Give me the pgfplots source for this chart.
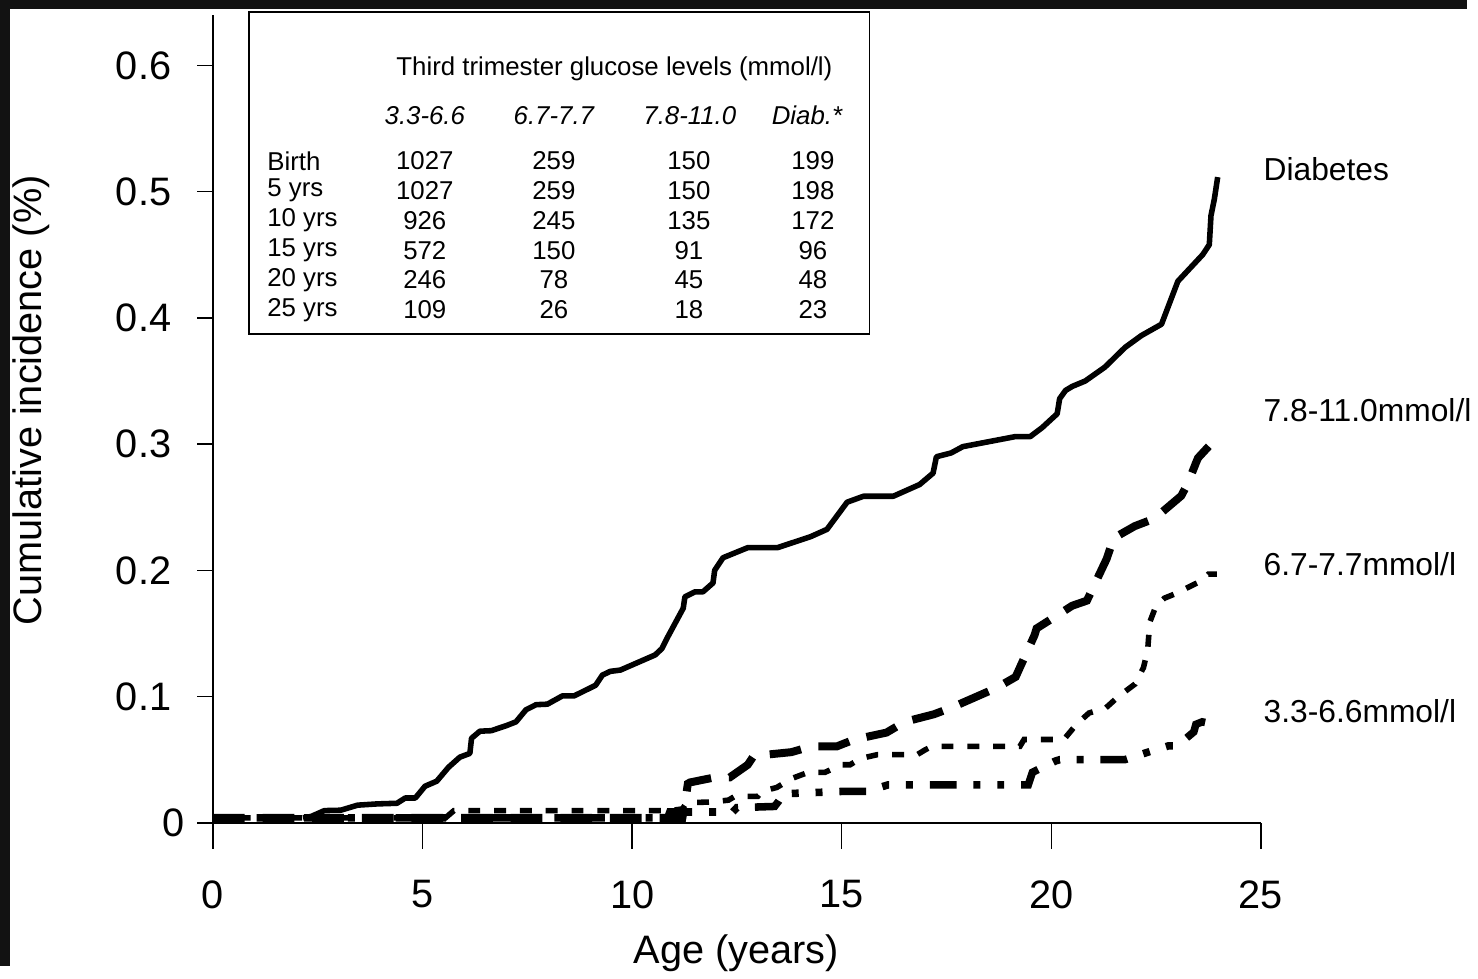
\documentclass[border=0pt]{standalone}
\usepackage{fontspec}
\setmainfont{Liberation Sans}
\usepackage{pgfplots}
\pgfplotsset{compat=1.18}
\begin{document}
\begin{tikzpicture}
\begin{scope}[x=0.5pt,y=0.5pt]
\fill[white] (0,0) rectangle (1478,973);
\fill[black!93] (0,964) rectangle (1478,973);
\fill[black!93] (0,0) rectangle (10,973);
\end{scope}
\begin{axis}[
  at={(107.25pt,72pt)}, anchor=south west,
  scale only axis, width=527.9pt, height=407pt,
  xmin=0, xmax=25, ymin=0, ymax=0.64,
  axis x line*=bottom, axis y line*=left,
  axis line style={-, line width=0.7pt},
  xtick={0,5,10,15,20,25}, ytick={0.1,0.2,0.3,0.4,0.5,0.6},
  extra y ticks={0},
  tick align=outside, major tick length=8pt,
  tick style={line width=0.7pt, black},
  xtick style={/pgfplots/major tick length=13pt},
  ytick style={/pgfplots/major tick length=8pt},
  /pgf/number format/assume math mode=true,
  yticklabel style={/pgf/number format/fixed, /pgf/number format/precision=1, xshift=-9.5pt},
  extra y tick style={yticklabel style={xshift=7pt}},
  xticklabel style={yshift=-17.5pt},
  every tick label/.append style={font=\fontsize{20}{24}\selectfont},
  xlabel={Age (years)}, ylabel={Cumulative incidence (\%)},
  label style={font=\fontsize{20}{24}\selectfont},
  xlabel style={at={(rel axis cs:0.4996,-0.161)}, anchor=center},
  ylabel style={at={(rel axis cs:-0.1729,0.523)}, anchor=center},
  clip=false,
]
% Diabetes
\addplot[black, line width=2.8pt, line join=round] coordinates {
(2.15,0.004)(2.34,0.005)(2.66,0.0097)(3.05,0.010)(3.45,0.014)(3.92,0.015)(4.39,0.0155)(4.59,0.0197)(4.83,0.0197)(5.06,0.029)(5.34,0.033)(5.62,0.044)(5.89,0.052)(6.13,0.055)(6.17,0.067)(6.37,0.0726)(6.64,0.073)(7.0,0.077)(7.23,0.080)(7.47,0.0896)(7.71,0.0936)(7.98,0.094)(8.34,0.1006)(8.62,0.1006)(9.13,0.109)(9.29,0.117)(9.48,0.120)(9.72,0.121)(10.55,0.133)(10.71,0.138)(10.83,0.146)(11.22,0.170)(11.26,0.179)(11.5,0.183)(11.69,0.183)(11.93,0.190)(11.97,0.200)(12.17,0.210)(12.76,0.218)(13.47,0.218)(14.26,0.2267)(14.65,0.2325)(15.13,0.254)(15.52,0.2587)(16.23,0.2587)(16.86,0.268)(17.18,0.277)(17.26,0.290)(17.61,0.293)(17.89,0.298)(19.15,0.306)(19.5,0.306)(19.78,0.313)(20.14,0.324)(20.2,0.336)(20.34,0.3425)(20.5,0.3457)(20.81,0.350)(21.28,0.361)(21.76,0.3766)(22.15,0.386)(22.63,0.395)(23.02,0.429)(23.61,0.450)(23.77,0.458)(23.81,0.481)(23.89,0.494)(23.97,0.5115)
};
% 7.8-11.0 long dash
\addplot[black, line width=4pt, dash pattern=on 16pt off 9pt] coordinates {
(0,0.004)(11.2,0.004)(11.26,0.015)(11.33,0.031)(11.38,0.032)(11.97,0.036)(12.33,0.036)(12.76,0.046)(12.9,0.053)(13.8,0.056)(14.27,0.0605)(14.88,0.0605)(15.3,0.066)(16.07,0.0715)(16.5,0.08)(17.2,0.086)(17.6,0.091)(18.7,0.107)(19.15,0.1156)(19.6,0.1486)(19.65,0.154)(20.5,0.172)(20.85,0.176)(21.32,0.209)(21.49,0.2256)(21.99,0.235)(22.46,0.241)(23.1,0.259)(23.26,0.269)(23.45,0.285)(23.5,0.289)(24.0,0.307)
};
% 6.7-7.7 short dash
\addplot[black, line width=2.8pt, dash pattern=on 6pt off 7pt] coordinates {
(0,0.004)(5.55,0.004)(5.75,0.0097)(10.9,0.0097)(11.2,0.011)(11.3,0.016)(11.9,0.0165)(12.3,0.018)(12.45,0.021)(13.0,0.021)(13.1,0.025)(13.45,0.028)(13.8,0.035)(14.2,0.04)(14.6,0.04)(15.0,0.046)(15.2,0.046)(15.45,0.051)(15.85,0.054)(16.8,0.054)(17.0,0.058)(17.15,0.0605)(19.25,0.0605)(19.35,0.066)(20.3,0.066)(20.6,0.078)(20.9,0.087)(21.3,0.091)(21.6,0.1)(22.0,0.11)(22.2,0.123)(22.3,0.137)(22.35,0.159)(22.5,0.172)(22.7,0.178)(23.0,0.182)(23.2,0.1855)(23.6,0.192)(23.75,0.197)(23.95,0.197)
};
% 3.3-6.6 dash-dot-dot
\addplot[black, line width=3.8pt, dash pattern=on 13.5pt off 8.5pt on 3.5pt off 8.5pt on 3.5pt off 8.5pt] coordinates {
(0,0.004)(10.85,0.004)(10.9,0.0086)(12.4,0.0086)(12.5,0.012)(13.4,0.013)(13.5,0.0173)(13.6,0.023)(15.1,0.025)(15.6,0.025)(16.1,0.03)(19.45,0.03)(19.55,0.04)(20.1,0.049)(20.2,0.05)(21.75,0.05)(22.4,0.057)(22.8,0.061)(23.0,0.061)(23.4,0.072)(23.45,0.078)(23.6,0.08)(23.75,0.079)(23.95,0.087)
};
\node[anchor=west, font=\fontsize{16}{19}\selectfont] at (axis cs:24.9,0.518) {Diabetes};
\node[anchor=west, font=\fontsize{16}{19}\selectfont] at (axis cs:24.9,0.327) {7.8-11.0mmol/l};
\node[anchor=west, font=\fontsize{16}{19}\selectfont] at (axis cs:24.9,0.205) {6.7-7.7mmol/l};
\node[anchor=west, font=\fontsize{16}{19}\selectfont] at (axis cs:24.9,0.0888) {3.3-6.6mmol/l};
\end{axis}
% inset table
\begin{scope}[x=0.5pt,y=0.5pt]
\draw[line width=1pt] (251,961) rectangle (876,636);
\begin{scope}[every node/.style={font=\fontsize{13}{15}\selectfont, inner sep=0pt}]
\node at (619,904) {Third trimester glucose levels (mmol/l)};
\node[font=\fontsize{13}{15}\selectfont\itshape] at (428,857) {3.3-6.6};
\node[font=\fontsize{13}{15}\selectfont\itshape] at (558,857) {6.7-7.7};
\node[font=\fontsize{13}{15}\selectfont\itshape] at (695,857) {7.8-11.0};
\node[font=\fontsize{13}{15}\selectfont\itshape] at (813,857) {Diab.*};
\foreach \lab/\a/\b/\c/\d [count=\i from 0] in {Birth/1027/259/150/199, 5 yrs/1027/259/150/198, 10 yrs/926/245/135/172, 15 yrs/572/150/91/96, 20 yrs/246/78/45/48, 25 yrs/109/26/18/23}{
  \pgfmathsetmacro{\yy}{973-162-30*\i}
  \node[anchor=west] at (269,\yy) {\lab};
  \node at (428,\yy) {\a};
  \node at (558,\yy) {\b};
  \node at (694,\yy) {\c};
  \node at (819,\yy) {\d};
}
\end{scope}
\end{scope}
\end{tikzpicture}
\end{document}
